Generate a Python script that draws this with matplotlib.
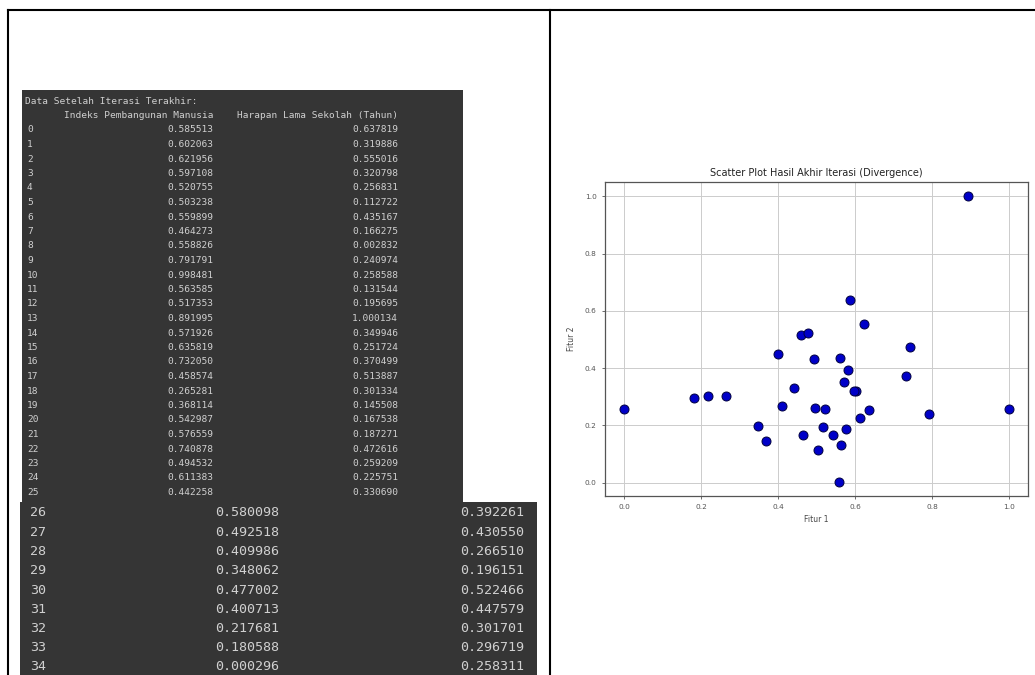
import matplotlib.pyplot as plt
from matplotlib.patches import Rectangle
from matplotlib.lines import Line2D

W, H = 1035, 675

# final iteration values (index 0..34)
idx = list(range(35))
ipm = [0.585513, 0.602063, 0.621956, 0.597108, 0.520755, 0.503238, 0.559899,
       0.464273, 0.558826, 0.791791, 0.998481, 0.563585, 0.517353, 0.891995,
       0.571926, 0.635819, 0.732050, 0.458574, 0.265281, 0.368114, 0.542987,
       0.576559, 0.740878, 0.494532, 0.611383, 0.442258, 0.580098, 0.492518,
       0.409986, 0.348062, 0.477002, 0.400713, 0.217681, 0.180588, 0.000296]
hls = [0.637819, 0.319886, 0.555016, 0.320798, 0.256831, 0.112722, 0.435167,
       0.166275, 0.002832, 0.240974, 0.258588, 0.131544, 0.195695, 1.000134,
       0.349946, 0.251724, 0.370499, 0.513887, 0.301334, 0.145508, 0.167538,
       0.187271, 0.472616, 0.259209, 0.225751, 0.330690, 0.392261, 0.430550,
       0.266510, 0.196151, 0.522466, 0.447579, 0.301701, 0.296719, 0.258311]

title = "Scatter Plot Hasil Akhir Iterasi (Divergence)"
header = "Data Setelah Iterasi Terakhir:"
col1 = "Indeks Pembangunan Manusia"
col2 = "Harapan Lama Sekolah (Tahun)"


def fx(x):
    return x / W


def fy(y):
    return 1 - y / H


fig = plt.figure(figsize=(W / 100, H / 100), dpi=100)

# page table borders
for (x0, y0, x1, y1) in [(8, 10, W, 10), (8, 10, 8, H), (550, 10, 550, H)]:
    fig.add_artist(Line2D([fx(x0), fx(x1)], [fy(y0), fy(y1)], color='black',
                          lw=1.5, transform=fig.transFigure))

# console screenshots
bg = '#353535'
fg = '#d0d0d0'
fig.add_artist(Rectangle((fx(22), fy(502)), fx(463) - fx(22), fy(90) - fy(502),
                         facecolor=bg, edgecolor='none', transform=fig.transFigure))
fig.add_artist(Rectangle((fx(20), fy(H)), fx(537) - fx(20), fy(502) - fy(H),
                         facecolor=bg, edgecolor='none', transform=fig.transFigure))

mono = 'DejaVu Sans Mono'
fig.text(fx(25), fy(102), header, color=fg, family=mono, fontsize=6.8, va='center')
fig.text(fx(213), fy(116), col1, color=fg, family=mono, fontsize=6.8, va='center', ha='right')
fig.text(fx(398), fy(116), col2, color=fg, family=mono, fontsize=6.8, va='center', ha='right')
for i in idx[:26]:
    y = 130 + i * 14.5
    fig.text(fx(27), fy(y), str(i), color=fg, family=mono, fontsize=6.8, va='center')
    fig.text(fx(213), fy(y), f"{ipm[i]:.6f}", color=fg, family=mono, fontsize=6.8,
             va='center', ha='right')
    fig.text(fx(398), fy(y), f"{hls[i]:.6f}", color=fg, family=mono, fontsize=6.8,
             va='center', ha='right')
for k, i in enumerate(idx[26:]):
    y = 513 + k * 19.25
    fig.text(fx(30), fy(y), str(i), color=fg, family=mono, fontsize=9.6, va='center')
    fig.text(fx(279), fy(y), f"{ipm[i]:.6f}", color=fg, family=mono, fontsize=9.6,
             va='center', ha='right')
    fig.text(fx(524), fy(y), f"{hls[i]:.6f}", color=fg, family=mono, fontsize=9.6,
             va='center', ha='right')

# scatter plot
ax = fig.add_axes([fx(605), fy(496), fx(1028) - fx(605), fy(182) - fy(496)])
ax.scatter(ipm, hls, s=42, c='#0000c8', edgecolors='#000040', linewidths=0.7, zorder=3)
ax.set_title(title, fontsize=7, color='#222222', pad=4)
ax.set_xlabel("Fitur 1", fontsize=5.5, color='#444444', labelpad=3)
ax.set_ylabel("Fitur 2", fontsize=5.5, color='#444444', labelpad=6)
ax.grid(True, color='#cccccc', lw=0.7)
ax.tick_params(labelsize=5.3, colors='#555555', length=2.5, width=0.6)
for s in ax.spines.values():
    s.set_color('#555555')
    s.set_linewidth(0.9)

fig.savefig('out.png', dpi=100)
